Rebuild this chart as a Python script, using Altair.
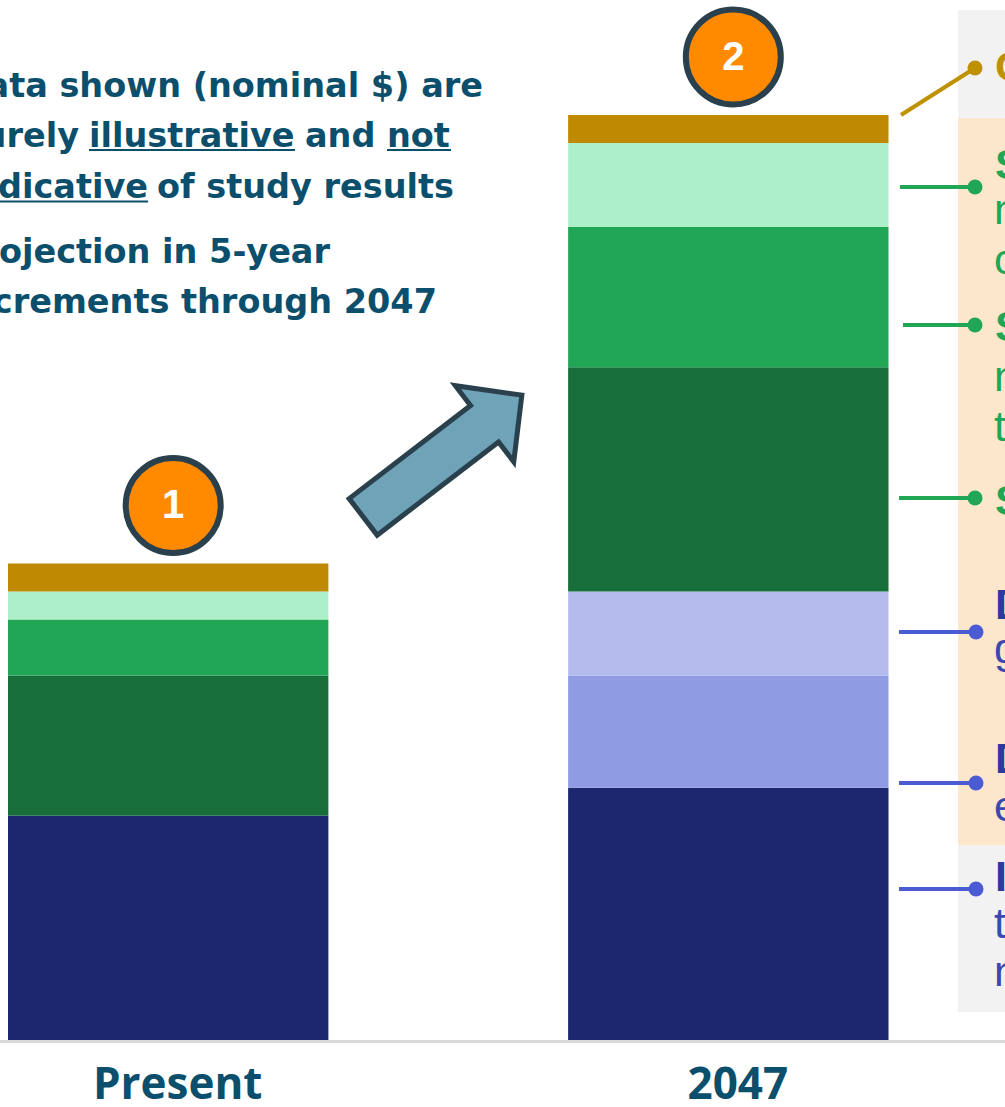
import altair as alt
import pandas as pd

# ---- values (illustrative, nominal $) ----
periods = ["Present", "2047"]
segments = ["Infrastructure", "Delivery B", "Delivery A",
            "Supply C", "Supply B", "Supply A", "Other"]
present_values = [8, 0, 0, 5, 2, 1, 1]
future_values = [9, 4, 3, 8, 5, 3, 1]
badge_numbers = ["1", "2"]

# ---- styling ----
segment_colors = ["#1C2770", "#8F9CE3", "#B3BCEC",
                  "#176E3B", "#21A656", "#ADEFC8", "#C08A00"]
TEXT_BLUE = "#0B4F6C"
GOLD = "#BF9000"
GREEN = "#21A656"
BLUE = "#4A5BD3"
LABEL_BLUE = "#2B3A9E"

rows = []
for period, vals in zip(periods, [present_values, future_values]):
    for i, (seg, v) in enumerate(zip(segments, vals)):
        rows.append({"period": period, "segment": seg, "value": v, "order": i})
bars_df = pd.DataFrame(rows)
totals_df = pd.DataFrame({
    "period": periods,
    "total": [sum(present_values), sum(future_values)],
    "badge": badge_numbers,
})

x_scale = alt.Scale(type="band", domain=periods, range=[8, 888.5],
                    paddingInner=0.428, paddingOuter=0)
y_scale = alt.Scale(domain=[0, 37.1], range=[1040, 0], nice=False, zero=False)

# ---- stacked bars ----
bars = alt.Chart(bars_df).mark_bar(opacity=1).encode(
    x=alt.X("period:N", scale=x_scale, axis=None),
    y=alt.Y("sum(value):Q", scale=y_scale, axis=None, stack="zero"),
    color=alt.Color("segment:N", scale=alt.Scale(domain=segments, range=segment_colors), legend=None),
    order=alt.Order("order:Q", sort="ascending"),
)

baseline = alt.Chart(pd.DataFrame({"v": [0]})).mark_rule(
    color="#D9D9D9", strokeWidth=3, yOffset=1.5
).encode(
    y=alt.Y("v:Q", scale=y_scale, axis=None),
    x=alt.value(0), x2=alt.value(1005),
)

period_labels = alt.Chart(pd.DataFrame({"period": periods})).mark_text(
    font="Open Sans", fontWeight="bold", fontSize=44, color=TEXT_BLUE,
    align="center", baseline="middle", dx=9.5
).encode(
    x=alt.X("period:N", scale=x_scale, axis=None, bandPosition=0.5),
    y=alt.value(1086),
    text="period:N",
)

# ---- numbered badges above each bar ----
badges = alt.Chart(totals_df).mark_point(
    shape="circle", filled=True, size=9025, fill="#FF8A00", stroke="#2A414D",
    strokeWidth=6, opacity=1, xOffset=5, yOffset=-58
).encode(
    x=alt.X("period:N", scale=x_scale, axis=None, bandPosition=0.5),
    y=alt.Y("total:Q", scale=y_scale, axis=None),
)
badge_text = alt.Chart(totals_df).mark_text(
    font="Liberation Sans", fontWeight="bold", fontSize=40, color="white",
    align="center", baseline="middle", dx=5, dy=-57
).encode(
    x=alt.X("period:N", scale=x_scale, axis=None, bandPosition=0.5),
    y=alt.Y("total:Q", scale=y_scale, axis=None),
    text="badge:N",
)

# ---- growth arrow ----
ARROW = "M -1 -0.23 L 0.53 -0.23 L 0.53 -0.48 L 1 0 L 0.53 0.48 L 0.53 0.23 L -1 0.23 Z"
arrow = alt.Chart(pd.DataFrame({"k": [0]})).mark_point(
    shape=ARROW, filled=True, fill="#6FA3B8", stroke="#2A414D", strokeWidth=5,
    size=40000, angle=322.5, opacity=1
).encode(x=alt.value(442.5), y=alt.value(456))

# ---- note text, top left ----
note_right = pd.DataFrame({
    "text": ["Data shown (nominal $) are", "Purely", "indicative",
             "Projection in 5-year", "increments through 2047"],
    "x": [483, 79, 148, 330, 437],
    "y": [97, 147, 198, 263, 313],
})
note_left = pd.DataFrame({
    "text": ["illustrative", "and", "not", "of study results"],
    "x": [89, 305, 387, 157],
    "y": [147, 147, 147, 198],
})
note_style = dict(font="DejaVu Sans", fontWeight="bold", fontSize=33.5,
                  color=TEXT_BLUE, baseline="alphabetic", clip=True)
notes_r = alt.Chart(note_right).mark_text(align="right", **note_style).encode(
    x=alt.X("x:Q", scale=None), y=alt.Y("y:Q", scale=None), text="text:N")
notes_l = alt.Chart(note_left).mark_text(align="left", **note_style).encode(
    x=alt.X("x:Q", scale=None), y=alt.Y("y:Q", scale=None), text="text:N")

underlines = alt.Chart(pd.DataFrame({
    "x": [89, 387, 0], "x2": [295, 451, 148], "y": [150, 150, 201.5]
})).mark_rule(color=TEXT_BLUE, strokeWidth=2).encode(
    x=alt.X("x:Q", scale=None), x2="x2:Q", y=alt.Y("y:Q", scale=None))

# ---- category panel on the right ----
panels = alt.Chart(pd.DataFrame({
    "y": [10, 118, 845], "y2": [118, 845, 1012],
    "fill": ["#F2F2F2", "#FCE6CC", "#F2F2F2"],
})).mark_rect(opacity=1).encode(
    x=alt.value(958), x2=alt.value(1005),
    y=alt.Y("y:Q", scale=None), y2="y2:Q",
    color=alt.Color("fill:N", scale=None),
)

connectors = pd.DataFrame({
    "x": [901, 900, 903, 899, 899, 899, 899],
    "y": [115, 187, 325, 498, 632, 783, 889],
    "x2": [975, 975, 975, 975, 976, 976, 976],
    "y2": [68, 187, 325, 498, 632, 783, 889],
    "c": [GOLD, GREEN, GREEN, GREEN, BLUE, BLUE, BLUE],
})
leader_lines = alt.Chart(connectors).mark_rule(strokeWidth=4, strokeCap="butt").encode(
    x=alt.X("x:Q", scale=None), y=alt.Y("y:Q", scale=None),
    x2="x2:Q", y2="y2:Q", color=alt.Color("c:N", scale=None))
leader_dots = alt.Chart(connectors).mark_circle(size=225, opacity=1).encode(
    x=alt.X("x2:Q", scale=None), y=alt.Y("y2:Q", scale=None),
    color=alt.Color("c:N", scale=None))

label_heads = pd.DataFrame({
    "text": ["Other", "Supply A", "Supply B", "Supply C",
             "Delivery A", "Delivery B", "Infrastructure"],
    "y": [81, 179, 341, 515, 619, 773, 891],
    "c": [GOLD, GREEN, GREEN, GREEN, LABEL_BLUE, LABEL_BLUE, LABEL_BLUE],
})
label_body = pd.DataFrame({
    "text": ["n", "c", "n", "t", "g", "e", "t", "n"],
    "y": [224, 274, 391, 441, 663, 821, 938, 986],
    "c": [GREEN, GREEN, GREEN, GREEN, "#3A48B0", "#3A48B0", "#3A48B0", "#3A48B0"],
})
heads = alt.Chart(label_heads).mark_text(
    font="Liberation Sans", fontWeight="bold", fontSize=43, align="left",
    baseline="alphabetic", clip=True
).encode(x=alt.value(995), y=alt.Y("y:Q", scale=None), text="text:N",
         color=alt.Color("c:N", scale=None))
body = alt.Chart(label_body).mark_text(
    font="Liberation Sans", fontSize=43, align="left",
    baseline="alphabetic", clip=True
).encode(x=alt.value(994), y=alt.Y("y:Q", scale=None), text="text:N",
         color=alt.Color("c:N", scale=None))

chart = alt.layer(
    panels, notes_r, notes_l, underlines, baseline, bars,
    leader_lines, leader_dots, heads, body,
    arrow, badges, badge_text, period_labels,
).properties(
    width=1005, height=1107, padding=0,
    autosize=alt.AutoSizeParams(type="none"),
    background="white",
).resolve_scale(
    x="independent", y="independent", color="independent"
).configure_view(stroke=None)

chart.save("out.html", embed_options={"renderer": "svg", "actions": False})
